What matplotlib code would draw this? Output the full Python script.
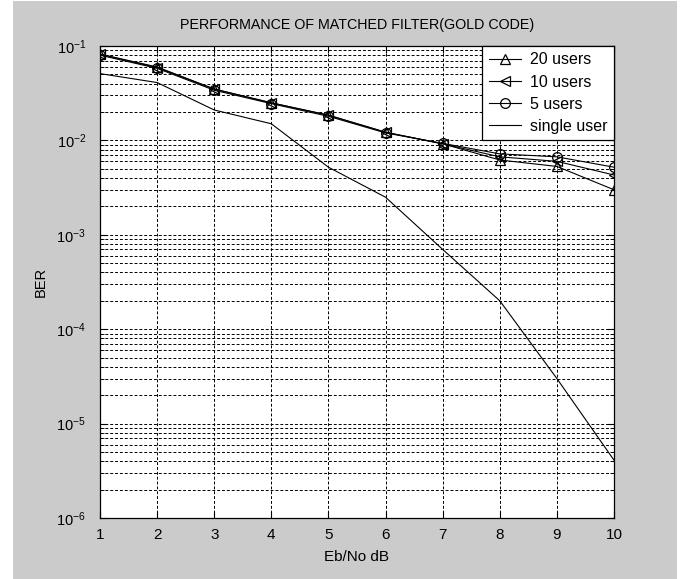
import matplotlib
matplotlib.use("Agg")
import matplotlib.pyplot as plt
from matplotlib.patches import Rectangle
from matplotlib.ticker import LogLocator, LogFormatterSciNotation, NullFormatter
import numpy as np

plt.rcParams['font.family'] = ['Liberation Sans', 'DejaVu Sans']
plt.rcParams['mathtext.fontset'] = 'custom'
plt.rcParams['mathtext.rm'] = 'Liberation Sans'
plt.rcParams['mathtext.it'] = 'Liberation Sans'

# data
ebno = [1, 2, 3, 4, 5, 6, 7, 8, 9, 10]
users20 = [0.082, 0.060, 0.035, 0.025, 0.0185, 0.0122, 0.0092, 0.0062, 0.0053, 0.0030]
users10 = [0.082, 0.059, 0.035, 0.025, 0.0185, 0.0122, 0.0092, 0.0067, 0.0060, 0.0043]
users5 = [0.080, 0.058, 0.034, 0.0245, 0.018, 0.0120, 0.0093, 0.0072, 0.0067, 0.0052]
single = [0.051, 0.041, 0.021, 0.015, 0.0052, 0.0025, 0.0007, 0.0002, 0.00003, 0.0000041]

bg = '#cbcbcb'

fig = plt.figure(figsize=(6.8, 5.79), dpi=100)
fig.patch.set_facecolor('white')
fig.patches.append(Rectangle((13 / 680, 0), 664 / 680, 578 / 579, transform=fig.transFigure,
                             facecolor=bg, edgecolor='none', zorder=-10))

ax = fig.add_axes([100 / 680, 61 / 579, 514 / 680, 472 / 579])
ax.set_facecolor('white')

lw = 0.8
ms = 7
ax.semilogy(ebno, users20, color='black', lw=lw, marker='^', ms=ms, mfc='none', mew=0.9, label='20 users')
ax.semilogy(ebno, users10, color='black', lw=lw, marker='<', ms=ms, mfc='none', mew=0.9, label='10 users')
ax.semilogy(ebno, users5, color='black', lw=lw, marker='o', ms=ms, mfc='none', mew=0.9, label='5 users')
ax.semilogy(ebno, single, color='black', lw=lw, label='single user')

ax.set_xlim(1, 10)
ax.set_ylim(1e-6, 1e-1)
ax.set_xticks(ebno)
ax.yaxis.set_major_locator(LogLocator(base=10, numticks=10))
ax.yaxis.set_minor_locator(LogLocator(base=10, subs=np.arange(2, 10), numticks=20))
ax.yaxis.set_major_formatter(LogFormatterSciNotation())
ax.yaxis.set_minor_formatter(NullFormatter())

ax.grid(True, which='major', axis='both', color='black', ls=(0, (3, 2)), lw=0.7)
ax.grid(True, which='minor', axis='y', color='black', ls=(0, (3, 2)), lw=0.7)

ax.tick_params(which='both', direction='in', top=True, right=True, colors='black')
ax.tick_params(which='major', length=5)
ax.tick_params(which='minor', length=3)
ax.tick_params(axis='x', pad=7, labelsize=11)
ax.tick_params(axis='y', pad=10, labelsize=10.5)
for s in ax.spines.values():
    s.set_linewidth(0.9)

ax.set_xlabel('Eb/No dB', fontsize=11, labelpad=6)
ax.set_ylabel('BER', fontsize=10.5, labelpad=6)
ax.set_title('PERFORMANCE OF MATCHED FILTER(GOLD CODE)', fontsize=10.3, pad=12)

leg = ax.legend(loc='upper right', fancybox=False, framealpha=1, fontsize=11.5,
                edgecolor='black', borderaxespad=0, handlelength=2.0, borderpad=0.4,
                labelspacing=0.45, handletextpad=0.6)
leg.get_frame().set_linewidth(0.9)

fig.savefig('out.png', dpi=100, facecolor=fig.get_facecolor())
